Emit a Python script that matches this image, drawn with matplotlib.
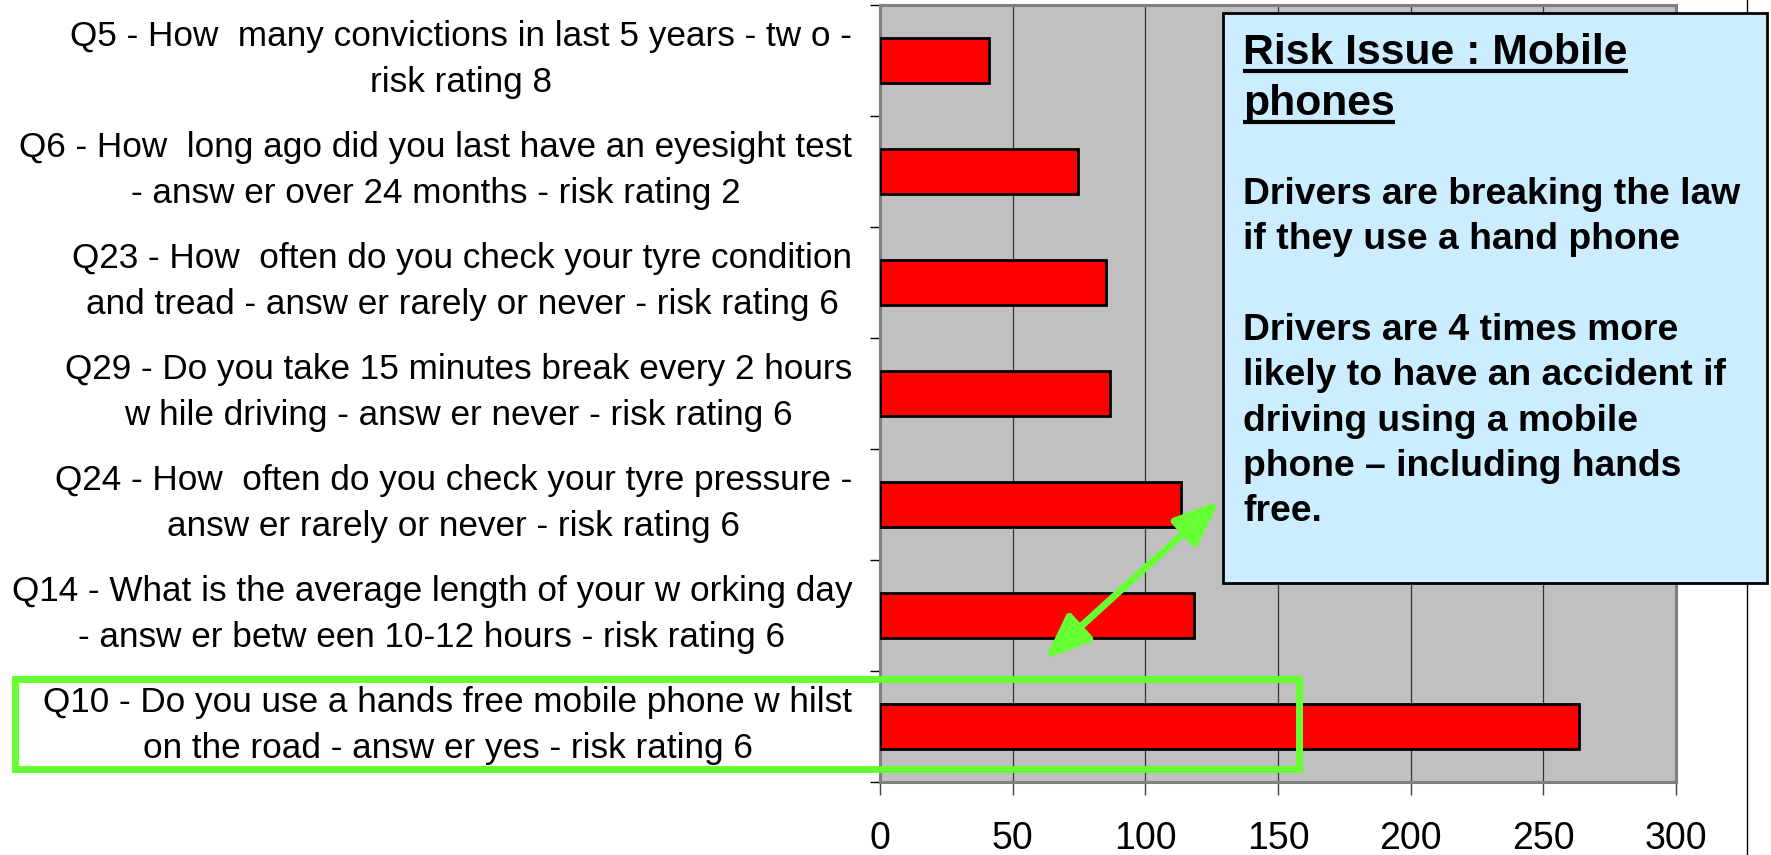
import matplotlib
matplotlib.use("Agg")
import matplotlib.pyplot as plt
import matplotlib.transforms as mtransforms
from matplotlib.patches import Rectangle, FancyArrowPatch
from matplotlib.lines import Line2D

plt.rcParams['font.family'] = ['Liberation Sans', 'DejaVu Sans']

# data (top to bottom as in the chart)
questions = [
    "Q5 - How  many convictions in last 5 years - tw o -\nrisk rating 8",
    "Q6 - How  long ago did you last have an eyesight test\n- answ er over 24 months - risk rating 2",
    "Q23 - How  often do you check your tyre condition\nand tread - answ er rarely or never - risk rating 6",
    "Q29 - Do you take 15 minutes break every 2 hours\nw hile driving - answ er never - risk rating 6",
    "Q24 - How  often do you check your tyre pressure -\nansw er rarely or never - risk rating 6",
    "Q14 - What is the average length of your w orking day\n- answ er betw een 10-12 hours - risk rating 6",
    "Q10 - Do you use a hands free mobile phone w hilst\non the road - answ er yes - risk rating 6",
]
counts = [41, 74.5, 85, 86.5, 113.5, 118.5, 263.5]
x_ticks = [0, 50, 100, 150, 200, 250, 300]

box_title = ["Risk Issue : Mobile", "phones"]
box_lines = ["Drivers are breaking the law",
             "if they use a hand phone",
             "",
             "Drivers are 4 times more",
             "likely to have an accident if",
             "driving using a mobile",
             "phone \u2013 including hands",
             "free."]

W, H = 1771, 855
green = '#66FF33'


def px(x, y):
    # pixel position (from top-left) -> figure fraction
    return x / W, 1 - y / H


fig = plt.figure(figsize=(W / 100, H / 100), dpi=100)
ax = fig.add_axes([880 / W, (H - 782) / H, 796 / W, 777 / H])

# page line on the right, behind the note box
fig.add_artist(Line2D([1747 / W, 1747 / W], [0, 1], transform=fig.transFigure,
                      color='black', lw=1, zorder=0))

ypos = list(range(len(questions)))
ax.barh(ypos, counts, height=0.4, color='red', edgecolor='black', linewidth=2, zorder=3)

ax.set_facecolor('#C0C0C0')
ax.set_xlim(0, 300)
ax.set_ylim(len(questions) - 0.5, -0.5)
ax.set_xticks(x_ticks)
ax.set_xticklabels([str(v) for v in x_ticks], fontsize=27)
ax.tick_params(axis='x', length=9, width=1, color='#404040', pad=19, direction='out')
ax.xaxis.grid(True, color='#333333', linewidth=0.9)
ax.set_axisbelow(True)

ax.set_yticks(ypos)
ax.set_yticklabels(questions, fontsize=25.3, multialignment='center', linespacing=1.47,
                   va='center')
ax.set_yticks([i - 0.5 for i in range(len(questions) + 1)], minor=True)
ax.tick_params(axis='y', which='major', length=0, pad=20)
ax.tick_params(axis='y', which='minor', length=7, width=1, color='black', direction='out')
shift = mtransforms.ScaledTranslation(0, 1 / 100, fig.dpi_scale_trans)
for lab in ax.get_yticklabels():
    lab.set_transform(lab.get_transform() + shift)

for side in ['top', 'right', 'bottom', 'left']:
    ax.spines[side].set_color('#808080')
    ax.spines[side].set_linewidth(2.2)

# note box
bx0, by0 = px(1223, 583)
bx1, by1 = px(1767, 13)
fig.add_artist(Rectangle((bx0, by0), bx1 - bx0, by1 - by0, transform=fig.transFigure,
                         facecolor='#CCECFF', edgecolor='black', lw=2, zorder=5))

title_texts = []
for i, line in enumerate(box_title):
    t = fig.text(*px(1243, 64 + 51 * i), line, fontsize=30.7, fontweight='bold',
                 va='baseline', ha='left', zorder=6)
    title_texts.append((t, 64 + 51 * i))

for i, line in enumerate(box_lines):
    if line:
        fig.text(*px(1243, 204 + 45.3 * i), line, fontsize=26.8, fontweight='bold',
                 va='baseline', ha='left', zorder=6)

# underline the title
fig.canvas.draw()
r = fig.canvas.get_renderer()
for t, base in title_texts:
    bb = t.get_window_extent(r)
    y = 1 - (base + 7) / H
    fig.add_artist(Line2D([bb.x0 / W, bb.x1 / W], [y, y], transform=fig.transFigure,
                          color='black', lw=3, solid_capstyle='butt', zorder=6))

# green highlight box around Q10
gx0, gy0 = px(14.5, 769)
gx1, gy1 = px(1298.5, 678.5)
fig.add_artist(Rectangle((gx0, gy0), gx1 - gx0, gy1 - gy0, transform=fig.transFigure,
                         facecolor='none', edgecolor=green, lw=5, zorder=7))

# double arrow
fig.add_artist(FancyArrowPatch(px(1219, 501), px(1045, 659), transform=fig.transFigure,
                               arrowstyle='<|-|>,head_length=27,head_width=11',
                               mutation_scale=1, lw=5, color=green,
                               shrinkA=0, shrinkB=0, zorder=7))

fig.savefig('out.png', dpi=100)
